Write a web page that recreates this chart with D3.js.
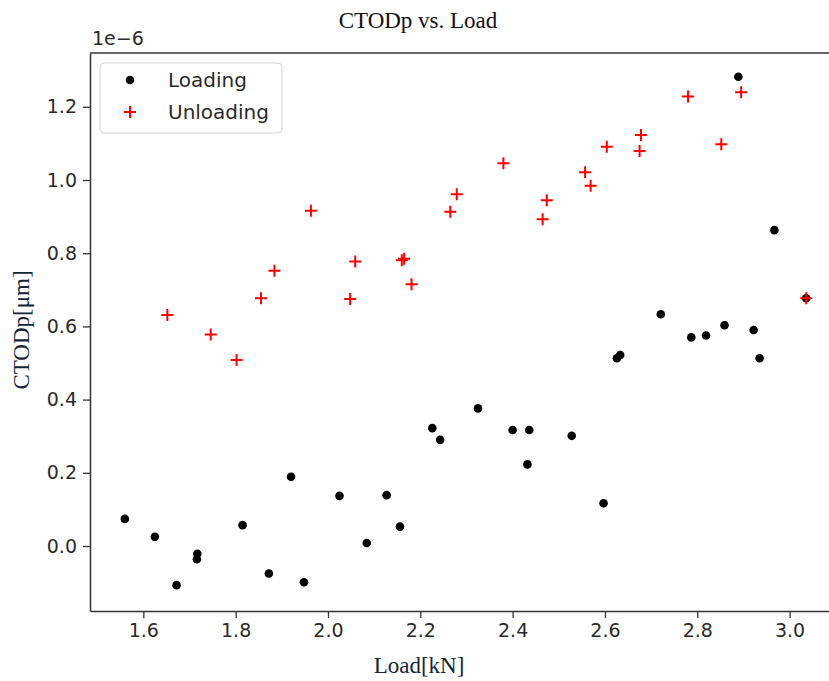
<!DOCTYPE html>
<html>
<head>
<meta charset="utf-8">
<script src="https://cdn.jsdelivr.net/npm/d3@7"></script>
<style>
    body { margin: 0; background: #fff; }
    svg { display: block; }
</style>
</head>
<body>
<div id="chart-area"></div>
<script>
// load in kN, CTODp in units of 1e-6
const loadingX = [1.560, 1.625, 1.672, 1.717, 1.716, 1.815, 1.872, 1.948, 2.084, 2.156,
    1.920, 2.025, 2.127, 2.226, 2.243, 2.325, 2.400, 2.436, 2.432, 2.528, 2.597,
    2.626, 2.633, 2.721, 2.787, 2.819, 2.859, 2.922, 2.935, 3.036, 2.967, 2.889];
const loadingY = [0.074, 0.025, -0.107, -0.021, -0.036, 0.057, -0.075, -0.099, 0.008, 0.053,
    0.189, 0.137, 0.139, 0.322, 0.290, 0.376, 0.317, 0.317, 0.223, 0.301, 0.117,
    0.513, 0.522, 0.633, 0.570, 0.575, 0.603, 0.590, 0.513, 0.677, 0.863, 1.282];

const unloadingX = [1.652, 1.746, 1.802, 1.855, 1.884, 1.963, 2.048, 2.059, 2.160, 2.165,
    2.181, 2.265, 2.279, 2.380, 2.465, 2.474, 2.557, 2.569, 2.604, 2.675, 2.678,
    2.780, 2.852, 2.895, 3.036];
const unloadingY = [0.631, 0.578, 0.508, 0.677, 0.752, 0.916, 0.675, 0.777, 0.781, 0.785,
    0.715, 0.913, 0.961, 1.046, 0.893, 0.945, 1.021, 0.984, 1.091, 1.079, 1.123,
    1.228, 1.098, 1.240, 0.677];

const xTicks = [1.6, 1.8, 2.0, 2.2, 2.4, 2.6, 2.8, 3.0];
const yTicks = [0.0, 0.2, 0.4, 0.6, 0.8, 1.0, 1.2];

const width = 829;
const height = 681;
const margin = { top: 53, left: 90, bottom: 611 };

const svg = d3.select("#chart-area")
    .append("svg")
    .attr("width", width)
    .attr("height", height);

// right side of the axes runs off the picture
const x = d3.scaleLinear().domain([1.4845, 3.12]).range([margin.left, 845]);
const y = d3.scaleLinear().domain([-0.1776, 1.347]).range([margin.bottom, margin.top]);

const tickFont = "'DejaVu Sans', sans-serif";
const serif = "'Liberation Serif', 'Times New Roman', serif";
const plusPath = "M-6,0H6M0,-6V6";

const bottomAxis = d3.axisBottom(x)
    .tickValues(xTicks)
    .tickSizeInner(7)
    .tickSizeOuter(0)
    .tickPadding(6)
    .tickFormat(d3.format(".1f"));
const leftAxis = d3.axisLeft(y)
    .tickValues(yTicks)
    .tickSizeInner(7)
    .tickSizeOuter(0)
    .tickPadding(6)
    .tickFormat(d3.format(".1f"));

const gx = svg.append("g")
    .attr("transform", "translate(0, " + margin.bottom + ")")
    .call(bottomAxis);
const gy = svg.append("g")
    .attr("transform", "translate(" + margin.left + ", 0)")
    .call(leftAxis);

[gx, gy].forEach((g) => {
    g.select(".domain").attr("stroke", "#333").attr("stroke-width", 1.5);
    g.selectAll(".tick line").attr("stroke", "#333").attr("stroke-width", 1.3);
    g.selectAll(".tick text")
        .attr("fill", "#2a2a2a")
        .style("font-family", tickFont)
        .style("font-size", "19px");
});

// top spine
svg.append("line")
    .attr("x1", margin.left)
    .attr("x2", 845)
    .attr("y1", margin.top)
    .attr("y2", margin.top)
    .attr("stroke", "#333")
    .attr("stroke-width", 1.5);

// points
svg.selectAll("circle.loading")
    .data(loadingX)
    .enter()
    .append("circle")
    .attr("class", "loading")
    .attr("cx", (d) => x(d))
    .attr("cy", (d, i) => y(loadingY[i]))
    .attr("r", 4.3)
    .attr("fill", "#000");

svg.selectAll("path.unloading")
    .data(unloadingX)
    .enter()
    .append("path")
    .attr("class", "unloading")
    .attr("d", plusPath)
    .attr("transform", (d, i) => "translate(" + x(d) + "," + y(unloadingY[i]) + ")")
    .attr("stroke", "#ff0000")
    .attr("stroke-width", 2)
    .attr("fill", "none");

// texts
svg.append("text")
    .attr("x", 92)
    .attr("y", 45)
    .attr("fill", "#2a2a2a")
    .style("font-family", tickFont)
    .style("font-size", "19px")
    .text("1e\u22126");

svg.append("text")
    .attr("x", 418)
    .attr("y", 28)
    .attr("text-anchor", "middle")
    .attr("fill", "#111")
    .style("font-family", serif)
    .style("font-size", "23px")
    .text("CTODp vs. Load");

svg.append("text")
    .attr("x", 419)
    .attr("y", 673)
    .attr("text-anchor", "middle")
    .attr("fill", "#142638")
    .style("font-family", serif)
    .style("font-size", "23px")
    .text("Load[kN]");

svg.append("text")
    .attr("transform", "translate(29, 330) rotate(-90)")
    .attr("text-anchor", "middle")
    .attr("fill", "#142638")
    .style("font-family", serif)
    .style("font-size", "23px")
    .text("CTODp[μm]");

// legend
const legend = svg.append("g").attr("transform", "translate(100, 63)");
legend.append("rect")
    .attr("width", 182)
    .attr("height", 70)
    .attr("rx", 4)
    .attr("fill", "#fff")
    .attr("fill-opacity", 0.8)
    .attr("stroke", "#d4d4d4");
legend.append("circle")
    .attr("cx", 30)
    .attr("cy", 17)
    .attr("r", 4.3)
    .attr("fill", "#000");
legend.append("path")
    .attr("d", plusPath)
    .attr("transform", "translate(30, 49)")
    .attr("stroke", "#ff0000")
    .attr("stroke-width", 2);
legend.selectAll("text.lab")
    .data(["Loading", "Unloading"])
    .enter()
    .append("text")
    .attr("class", "lab")
    .attr("x", 68)
    .attr("y", (d, i) => 24 + i * 32)
    .attr("fill", "#2a2a2a")
    .style("font-family", tickFont)
    .style("font-size", "20px")
    .text((d) => d);
</script>
</body>
</html>
